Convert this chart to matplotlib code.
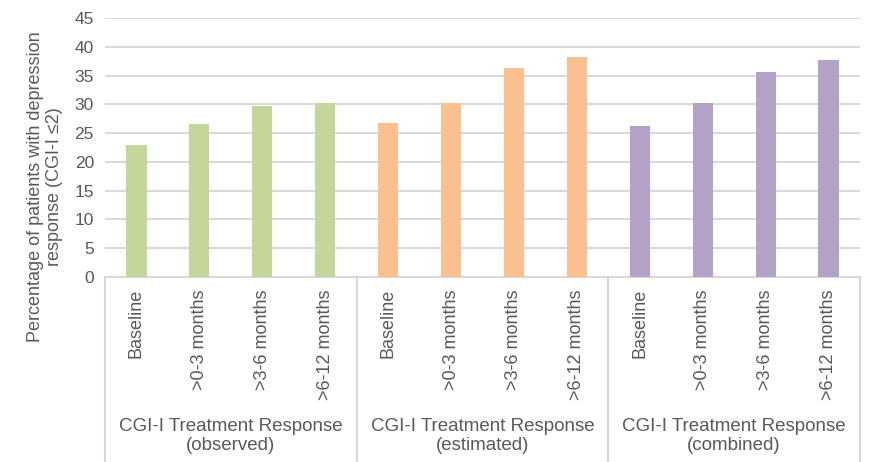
import numpy as np
import matplotlib.pyplot as plt
import matplotlib.transforms as mtransforms

# データ
periods = ["Baseline", ">0-3 months", ">3-6 months", ">6-12 months"]
groups = ["CGI-I Treatment Response\n(observed)",
          "CGI-I Treatment Response\n(estimated)",
          "CGI-I Treatment Response\n(combined)"]
observed = [22.9, 26.5, 29.7, 30.2]
estimated = [26.7, 30.2, 36.3, 38.2]
combined = [26.2, 30.2, 35.6, 37.7]
group_colors = ["#c4d79b", "#fac090", "#b3a2c7"]

plt.rcParams['font.family'] = ['Liberation Sans', 'DejaVu Sans']
text_color = '#595959'
grid_color = '#d9d9d9'

fig = plt.figure(figsize=(8.7, 4.62), dpi=100)
ax = fig.add_axes([105 / 870, 1 - 277 / 462, 755 / 870, 259 / 462])

series = [observed, estimated, combined]
n = len(periods)
for g, (vals, col) in enumerate(zip(series, group_colors)):
    x = np.arange(n) + g * n
    ax.bar(x, vals, width=0.32, color=col, zorder=3)

ax.set_xlim(-0.5, len(groups) * n - 0.5)
ax.set_ylim(0, 45)
ax.set_yticks(np.arange(0, 46, 5))
ax.tick_params(axis='y', length=0, labelsize=12.5, labelcolor=text_color, pad=8)
ax.set_xticks([])
ax.grid(axis='y', color=grid_color, linewidth=1.5, zorder=0)
for s in ['top', 'right', 'left']:
    ax.spines[s].set_visible(False)
ax.spines['bottom'].set_color(grid_color)
ax.spines['bottom'].set_linewidth(1.5)

ax.set_ylabel("Percentage of patients with depression\nresponse (CGI-I ≤2)",
              fontsize=13, color=text_color, linespacing=1.15)
ax.yaxis.set_label_coords(-0.056, 0.35)

# 区分ラベル（縦書き）と群ラベル
trans = mtransforms.blended_transform_factory(ax.transData, fig.transFigure)
for g in range(len(groups)):
    for i, p in enumerate(periods):
        ax.text(g * n + i, 1 - 289 / 462, p, rotation=90, ha='center', va='top',
                fontsize=13, color=text_color, transform=trans)
    ax.text(g * n + (n - 1) / 2, 1 - 436 / 462, groups[g], ha='center',
            va='center', fontsize=13.5, color=text_color, transform=trans,
            linespacing=1.2)

# 群の区切り線
for xb in np.arange(len(groups) + 1) * n - 0.5:
    ax.plot([xb, xb], [1 - 277 / 462, 0], color=grid_color, linewidth=1.5,
            transform=trans, clip_on=False)

fig.savefig("out.png", dpi=100)
